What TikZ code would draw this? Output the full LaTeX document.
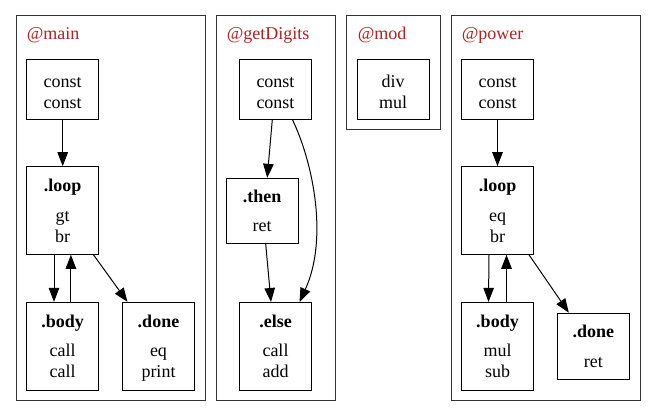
\documentclass[tikz,border=0pt]{standalone}
\usepackage{fontspec}
\setmainfont{Liberation Serif}
\usetikzlibrary{arrows.meta}
\definecolor{fire}{RGB}{178,34,34}
\newcommand{\topstrut}{\rule{0pt}{18pt}}
\newcommand{\nodepth}[1]{\raisebox{0pt}[\height][0pt]{#1}}
\begin{document}
\begin{tikzpicture}[x=1pt,y=-1pt,
  blk/.style={draw=black, line width=1pt, inner sep=0pt, align=center,
    minimum width=72pt, font=\fontsize{18}{21}\selectfont},
  clus/.style={draw=black!80, line width=1pt},
  ttl/.style={text=fire, inner sep=0pt, anchor=base west, font=\fontsize{18}{21}\selectfont},
  edge/.style={line width=1pt, -{Triangle[length=14pt,width=10.5pt]}}]
\useasboundingbox (0,0) rectangle (656,417);
% clusters
\draw[clus] (16,16) rectangle (205,400);
\draw[clus] (216,16) rectangle (335.5,400);
\draw[clus] (346.7,16) rectangle (440,129.3);
\draw[clus] (451,16) rectangle (640,400);
\node[ttl] (tmain) at (26.7,39.3) {@main};
\node[ttl] (tget) at (226.7,39.3) {@getDigits};
\node[ttl] (tmod) at (357.7,39.3) {@mod};
\node[ttl] (tpow) at (461.7,39.3) {@power};
% main
\node[blk, minimum height=60pt] (mc) at (62.7,89.2) {\topstrut const\\const};
\node[blk, minimum height=87.6pt] (ml) at (62.7,210.5) {\textbf{.loop}\\[8.7pt]gt\\br};
\node[blk, minimum height=87.6pt] (mb) at (62.7,346.2) {\textbf{.body}\\[8.7pt]call\\call};
\node[blk, minimum height=87.6pt] (md) at (158.5,346.2) {\textbf{.done}\\[8.7pt]eq\\\nodepth{print}};
\draw[edge] (mc.south) -- (ml.north);
\draw[edge] ([xshift=-8.7pt]ml.south) -- ([xshift=-8.7pt]mb.north);
\draw[edge] ([xshift=8.2pt]mb.north) -- ([xshift=8.2pt]ml.south);
\draw[edge] ([xshift=-5.7pt]ml.south east) -- ([xshift=5.5pt]md.north west);
% getDigits
\node[blk, minimum height=60pt] (gc) at (275.5,89.2) {\topstrut const\\const};
\node[blk, minimum height=65pt] (gt) at (262.2,210.8) {\textbf{.then}\\[8.7pt]ret};
\node[blk, minimum height=87.6pt] (ge) at (275.5,346.3) {\textbf{.else}\\[8.7pt]call\\add};
\draw[edge] ([xshift=-3.2pt]gc.south) -- ([xshift=5pt]gt.north);
\draw[edge] ([xshift=3.5pt]gt.south) -- ([xshift=-4.5pt]ge.north);
\draw[edge] ([xshift=17pt]gc.south) .. controls (314,165) and (328,240) .. ([xshift=24pt]ge.north);
% mod
\node[blk, minimum height=60pt] (dm) at (393.2,89.2) {\topstrut div\\mul};
% power
\node[blk, minimum height=60pt] (pc) at (497.5,89.2) {\topstrut const\\const};
\node[blk, minimum height=87.6pt] (pl) at (497.5,210.5) {\textbf{.loop}\\[8.7pt]eq\\br};
\node[blk, minimum height=87.6pt] (pb) at (497.5,346.2) {\textbf{.body}\\[8.7pt]mul\\sub};
\node[blk, minimum height=66pt] (pd) at (593.3,346.2) {\textbf{.done}\\[8.7pt]ret};
\draw[edge] (pc.south) -- (pl.north);
\draw[edge] ([xshift=-8.5pt]pl.south) -- ([xshift=-9pt]pb.north);
\draw[edge] ([xshift=9pt]pb.north) -- ([xshift=9pt]pl.south);
\draw[edge] ([xshift=-5pt]pl.south east) -- ([xshift=12pt]pd.north west);
\end{tikzpicture}
\end{document}
